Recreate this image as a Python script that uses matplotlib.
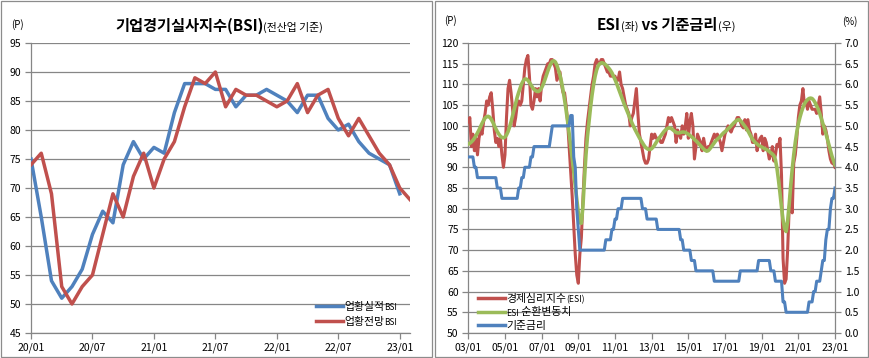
import matplotlib
matplotlib.use('Agg')
import matplotlib.pyplot as plt
from matplotlib.patches import Rectangle
from matplotlib.lines import Line2D
import numpy as np

plt.rcParams['font.family'] = ['Noto Sans CJK KR', 'DejaVu Sans']

# ---------------- data: left chart (BSI, 2020/01 ~ 2023/02) ----------------
bsi_ticklabels = ['20/01', '20/07', '21/01', '21/07', '22/01', '22/07', '23/01']
bsi_actual = [75, 65, 54, 51, 53, 56, 62, 66, 64, 74, 78, 75,
              77, 76, 83, 88, 88, 88, 87, 87, 84, 86, 86, 87,
              86, 85, 83, 86, 86, 82, 80, 81, 78, 76, 75, 74,
              69]
bsi_outlook = [74, 76, 69, 53, 50, 53, 55, 62, 69, 65, 72, 76,
               70, 75, 78, 84, 89, 88, 90, 84, 87, 86, 86, 85,
               84, 85, 88, 83, 86, 87, 82, 79, 82, 79, 76, 74,
               70, 68]

# ---------------- data: right chart (ESI, 2003/01 ~ 2023/01) ----------------
esi_ticklabels = ['03/01', '05/01', '07/01', '09/01', '11/01', '13/01',
                  '15/01', '17/01', '19/01', '21/01', '23/01']
esi = [101, 102, 95, 98, 94, 97, 93, 97, 99, 98, 101, 103,          # 2003
       106, 105, 107, 108, 104, 99, 96, 97, 95, 97, 93, 90,          # 2004
       93, 102, 109, 111, 108, 104, 100, 102, 105, 106, 105, 106,    # 2005
       110, 114, 116, 117, 112, 105, 104, 106, 109, 107, 109, 106,   # 2006
       110, 112, 113, 114, 115, 115, 116, 116, 115, 114, 111, 112,   # 2007
       113, 110, 108, 108, 105, 101, 95, 89, 83, 76, 69, 64,         # 2008
       62, 69, 73, 82, 90, 97, 101, 104, 107, 110, 112, 115,         # 2009
       116, 115, 115, 116, 116, 115, 114, 113, 113, 112, 112, 112,   # 2010
       112, 111, 111, 113, 110, 109, 107, 105, 104, 103, 100, 102,   # 2011
       103, 106, 109, 103, 98, 96, 94, 92, 91, 91, 92, 95,           # 2012
       98, 97, 98, 97, 97, 97, 96, 96, 97, 98, 100, 102,             # 2013
       101, 102, 101, 100, 96, 99, 98, 97, 100, 98, 100, 103,        # 2014
       97, 101, 103, 100, 92, 95, 98, 97, 96, 94, 97, 95,            # 2015
       94, 95, 95, 96, 97, 98, 97, 98, 97, 96, 94, 96,               # 2016
       98, 99, 100, 99, 98.5, 99.5, 100, 101, 102, 102, 101, 100,    # 2017
       99.5, 101.5, 99, 101.5, 99, 98, 96, 96, 98, 94, 96, 97,       # 2018
       97.5, 94, 97, 96, 94, 92, 93, 95, 91.5, 93, 95.5, 95,         # 2019
       97, 88, 68, 62, 63, 70, 80, 84, 79, 91, 93, 97,               # 2020
       102, 105, 106, 109, 105, 106, 104, 106, 105, 104, 104, 104,   # 2021
       103, 105, 107, 103, 98, 100, 99, 97, 94, 92, 91, 91,          # 2022
       90]                                                           # 2023
esi_cycle = [95.6, 95.8, 96.1, 96.5, 97.0, 97.6, 98.3, 99.0, 99.8, 100.6, 101.3, 101.9,
             102.2, 102.3, 102.1, 101.6, 100.9, 100.1, 99.3, 98.6, 98.0, 97.5, 97.2, 97.1,
             97.3, 97.8, 98.6, 99.7, 101.0, 102.5, 104.0, 105.5, 106.9, 108.1, 109.2, 110.2,
             110.9, 111.3, 111.3, 111.0, 110.5, 109.9, 109.3, 108.8, 108.5, 108.3, 108.3, 108.6,
             109.2, 110.0, 111.0, 112.1, 113.2, 114.2, 115.0, 115.6, 115.7, 115.4, 114.6, 113.5,
             112.2, 110.6, 108.6, 106.3, 103.8, 101.1, 98.2, 95.2, 92.1, 89.0, 85.5, 82.3,
             79.0, 76.6, 76.5, 80.5, 87.0, 93.0, 97.5, 101.0, 104.5, 107.5, 110.0, 112.0,
             113.5, 114.5, 115.0, 115.2, 115.2, 115.0, 114.7, 114.3, 113.9, 113.4, 112.8, 112.0,
             111.2, 110.3, 109.3, 108.3, 107.3, 106.3, 105.3, 104.4, 103.5, 102.6, 101.7, 100.8,
             100.0, 99.2, 98.5, 97.8, 97.1, 96.5, 95.9, 95.3, 94.8, 94.5, 94.3, 94.3,
             94.5, 94.9, 95.4, 96.0, 96.6, 97.1, 97.6, 98.1, 98.6, 99.0, 99.3, 99.5,
             99.5, 99.3, 99.0, 98.7, 98.4, 98.3, 98.3, 98.4, 98.5, 98.5, 98.4, 98.2,
             98.0, 97.7, 97.4, 97.1, 96.7, 96.4, 96.0, 95.6, 95.2, 94.8, 94.4, 94.1,
             93.9, 94.0, 94.4, 94.9, 95.4, 95.9, 96.4, 96.8, 97.1, 97.5, 97.9, 98.3,
             98.6, 98.9, 99.3, 99.6, 100.0, 100.4, 100.8, 101.1, 101.4, 101.5, 101.3, 100.9,
             100.4, 99.9, 99.4, 98.8, 98.1, 97.4, 96.8, 96.3, 95.9, 95.6, 95.3, 95.1,
             94.9, 94.7, 94.5, 94.3, 94.1, 93.8, 93.5, 93.2, 92.8, 91.8, 89.8, 87.0,
             83.8, 80.3, 77.3, 75.2, 74.5, 77.0, 81.0, 85.5, 89.5, 93.0, 96.0, 98.5,
             100.5, 102.0, 103.3, 104.4, 105.3, 105.9, 106.3, 106.6, 106.7, 106.6, 106.2, 105.6,
             104.8, 104.0, 103.0, 101.8, 100.6, 99.5, 98.2, 96.8, 95.3, 94.0, 92.7, 91.6,
             90.6]
# base rate: month of change and new level (%)
rate_change_month = ['2003/01', '2003/05', '2003/07', '2004/08', '2004/11', '2005/10',
                     '2005/12', '2006/02', '2006/06', '2006/08', '2007/07', '2007/08',
                     '2008/08', '2008/10', '2008/11', '2008/12', '2009/01', '2009/02',
                     '2010/07', '2010/11', '2011/01', '2011/03', '2011/06', '2012/07',
                     '2012/10', '2013/05', '2014/08', '2014/10', '2015/03', '2015/06',
                     '2016/06', '2017/11', '2018/11', '2019/07', '2019/10', '2020/03',
                     '2020/05', '2021/08', '2021/11', '2022/01', '2022/04', '2022/05',
                     '2022/07', '2022/08', '2022/10', '2022/11', '2023/01']
rate_change_value = [4.25, 4.00, 3.75, 3.50, 3.25, 3.50,
                     3.75, 4.00, 4.25, 4.50, 4.75, 5.00,
                     5.25, 4.25, 4.00, 3.00, 2.50, 2.00,
                     2.25, 2.50, 2.75, 3.00, 3.25, 3.00,
                     2.75, 2.50, 2.25, 2.00, 1.75, 1.50,
                     1.25, 1.50, 1.75, 1.50, 1.25, 0.75,
                     0.50, 0.75, 1.00, 1.25, 1.50, 1.75,
                     2.25, 2.50, 3.00, 3.25, 3.50]

n_esi = len(esi)
base_rate = np.zeros(n_esi)
for mstr, val in zip(rate_change_month, rate_change_value):
    yy, mm = mstr.split('/')
    idx = (int(yy) - 2003) * 12 + int(mm) - 1
    base_rate[idx:] = val

# ---------------- styling ----------------
RED = '#C0504D'
BLUE = '#4F81BD'
GREEN = '#9BBB59'
GRID = '#868686'
TICK = 7.5

W, H, DPI = 869, 358, 100
fig = plt.figure(figsize=(W / DPI, H / DPI), dpi=DPI)


def fx(px):
    return px / W


def fy(py):
    return 1 - py / H


def style_axes(ax):
    ax.set_facecolor('none')
    for s in ['top', 'right']:
        ax.spines[s].set_visible(False)
    for s in ['left', 'bottom']:
        ax.spines[s].set_color(GRID)
        ax.spines[s].set_linewidth(0.9)
    ax.grid(axis='y', color=GRID, lw=0.9)
    ax.set_axisbelow(True)
    ax.tick_params(direction='out', length=4, width=0.9, color=GRID,
                   labelsize=TICK, pad=3)


# panel frames
fig.patches.append(Rectangle((fx(0.5), fy(356.5)), fx(432) - fx(0.5), (356) / H,
                             transform=fig.transFigure, fill=False,
                             edgecolor='#8C8C8C', lw=0.9))
fig.patches.append(Rectangle((fx(435.5), fy(356.5)), fx(868.3) - fx(435.5), (356) / H,
                             transform=fig.transFigure, fill=False,
                             edgecolor='#8C8C8C', lw=0.9))

# ---------------- left chart ----------------
axL = fig.add_axes([fx(31), fy(333), fx(410) - fx(31), (333 - 43) / H])
style_axes(axL)
xL_a = np.arange(len(bsi_actual))
xL_o = np.arange(len(bsi_outlook))
axL.plot(xL_a, bsi_actual, color=BLUE, lw=2.5, solid_joinstyle='round', zorder=3)
axL.plot(xL_o, bsi_outlook, color=RED, lw=2.5, solid_joinstyle='round', zorder=4)
axL.set_xlim(0, 37)
axL.set_ylim(45, 95)
axL.set_yticks(np.arange(45, 96, 5))
axL.set_xticks(np.arange(0, 37, 6))
axL.set_xticklabels(bsi_ticklabels)

# ---------------- right chart ----------------
axR = fig.add_axes([fx(468.3), fy(333), fx(835) - fx(468.3), (333 - 43) / H])
style_axes(axR)
xR = np.arange(n_esi)
axR.plot(xR, esi, color=RED, lw=2.2, solid_joinstyle='round', zorder=3)
axR.plot(xR, esi_cycle, color=GREEN, lw=2.6, solid_joinstyle='round', zorder=4)
axR.set_xlim(0, 240)
axR.set_ylim(50, 120)
axR.set_yticks(np.arange(50, 121, 5))
axR.set_xticks(np.arange(0, 241, 24))
axR.set_xticklabels(esi_ticklabels)

axR2 = axR.twinx()
axR2.set_facecolor('none')
for s in ['top', 'left', 'bottom']:
    axR2.spines[s].set_visible(False)
axR2.spines['right'].set_color(GRID)
axR2.spines['right'].set_linewidth(0.9)
axR2.plot(xR, base_rate, color=BLUE, lw=2.2, solid_joinstyle='round', zorder=5)
axR2.set_ylim(0, 7)
axR2.set_yticks(np.arange(0, 7.01, 0.5))
axR2.set_yticklabels([f'{v:.1f}' for v in np.arange(0, 7.01, 0.5)])
axR2.tick_params(direction='out', length=4, width=0.9, color=GRID,
                 labelsize=TICK, pad=3)

# ---------------- texts ----------------
renderer = fig.canvas.get_renderer()


def chain(x_px, y_px, parts):
    x = x_px
    for s, size, weight in parts:
        t = fig.text(fx(x), fy(y_px), s, fontsize=size, fontweight=weight,
                     ha='left', va='baseline')
        bb = t.get_window_extent(renderer)
        x += bb.width


chain(115, 31, [('기업경기실사지수(BSI)', 11, 'bold'), ('(전산업 기준)', 7.8, 'normal')])
chain(597, 30, [('ESI', 11, 'bold'), ('(좌)', 7.8, 'normal'), (' vs 기준금리', 11, 'bold'),
                ('(우)', 7.8, 'normal')])

fig.text(fx(17), fy(25), '(P)', fontsize=7, ha='center', va='center')
fig.text(fx(450), fy(21), '(P)', fontsize=7, ha='center', va='center')
fig.text(fx(850), fy(22), '(%)', fontsize=7, ha='center', va='center')

# left legend
for ypx, col, lab in [(306, BLUE, '업황실적'), (321, RED, '업황전망')]:
    fig.add_artist(Line2D([fx(316), fx(343)], [fy(ypx), fy(ypx)], color=col, lw=2.5,
                          transform=fig.transFigure))
    chain(344, ypx + 4, [(lab, 7.8, 'normal'), ('BSI', 6, 'normal')])

# right legend
for ypx, col, parts in [(298, RED, [('경제심리지수', 7.8, 'normal'), ('(ESI)', 6.2, 'normal')]),
                        (311.5, GREEN, [('ESI', 6.2, 'normal'), (' 순환변동치', 7.8, 'normal')]),
                        (325, BLUE, [('기준금리', 7.8, 'normal')])]:
    fig.add_artist(Line2D([fx(478), fx(505)], [fy(ypx), fy(ypx)], color=col, lw=2.5,
                          transform=fig.transFigure))
    chain(506, ypx + 4, parts)

fig.savefig('out.png', dpi=DPI)
